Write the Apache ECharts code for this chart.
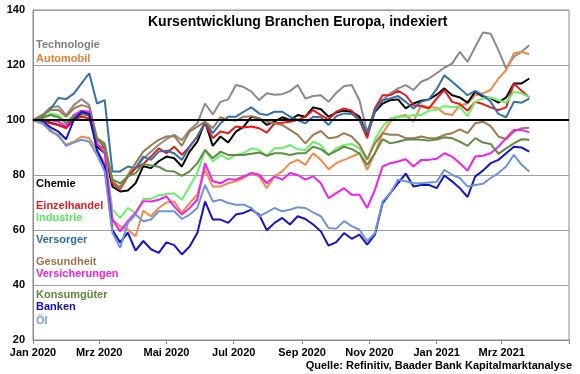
<!DOCTYPE html>
<html><head><meta charset="utf-8">
<script src="https://cdn.jsdelivr.net/npm/echarts@6/dist/echarts.min.js"></script>
<style>html,body{margin:0;padding:0;background:#fff}#c{width:580px;height:374px}</style>
</head><body><div id="c"></div>
<script>
// Weekly observation dates
const dates = ['2020-01-01','2020-01-10','2020-01-17','2020-01-24','2020-01-31','2020-02-07','2020-02-14','2020-02-21','2020-02-28','2020-03-06',
'2020-03-13','2020-03-20','2020-03-27','2020-04-03','2020-04-10','2020-04-17','2020-04-24','2020-05-01','2020-05-08','2020-05-15',
'2020-05-22','2020-05-29','2020-06-05','2020-06-12','2020-06-19','2020-06-26','2020-07-03','2020-07-10','2020-07-17','2020-07-24',
'2020-07-31','2020-08-07','2020-08-14','2020-08-21','2020-08-28','2020-09-04','2020-09-11','2020-09-18','2020-09-25','2020-10-02',
'2020-10-09','2020-10-16','2020-10-23','2020-10-30','2020-11-06','2020-11-13','2020-11-20','2020-11-27','2020-12-04','2020-12-11',
'2020-12-18','2020-12-25','2021-01-01','2021-01-08','2021-01-15','2021-01-22','2021-01-29','2021-02-05','2021-02-12','2021-02-19',
'2021-02-26','2021-03-05','2021-03-12','2021-03-19','2021-03-26'];

const technologie = [100,102,104.6,105,101.8,105.4,107.6,105.4,93.4,91,77,75.8,79.5,82.5,86,88.5,91,93,94.6,92.7,96.4,98.8,106,102,106.6,107.5,112.7,112,110.3,107.2,109.7,109.2,109.4,110.5,112.7,107.8,108.7,109,106.6,109.9,112.3,112.7,107.2,95.5,104.2,107.2,109.7,111.5,112.7,110.9,113.9,115.1,117,119,120.5,124.8,121.1,126.6,131.8,131.4,125.4,118.7,123,124.8,127.2];
const automobil = [100,98.5,96.4,94,91,92.1,94,93.4,89,84.3,63.8,61.4,60.1,57.7,67,65,68,70,70.4,66.2,69.8,72.8,81.9,75.8,75.8,77,77.7,78.9,80.7,79.5,75.2,79.5,81.3,84.3,85.5,83.7,87.9,85.5,82.1,84.3,85.5,86.7,87.9,81.9,87.9,95.2,99.4,101.2,101.8,99.4,105.4,104.6,104.5,102.4,101.8,105.4,106,109,109.7,110.9,115.1,118.1,124.2,124.8,123.9];
const chemie = [100,99.8,99,98.2,97.3,100.6,102.2,101.8,90.3,88,75.8,74,74.4,77,83.2,82.5,85,86.7,86.1,83.1,88.5,92.1,99.4,90.6,94,91.8,95.8,97.6,101.2,100.6,98.2,99.4,101,100,101.8,101.2,104.6,103.9,101.2,102.7,103.4,103,101.2,94.6,103,106,107.2,107.5,104.2,106,107,107.5,109.2,111.5,109,108.2,106.3,110.3,108.5,107.9,106.3,108.2,113.3,113.3,115.1];
const einzelhandel = [100,99.6,98.8,98.2,97,100,101.2,100.6,91,89.7,77,74.8,79.5,82.5,84,86.7,89.7,87.9,90.3,87.3,90.3,94,98.8,93.4,95.8,95.2,97.6,97.3,97.6,97,95.4,98.8,99,99.4,100,101.2,103.6,101.8,100.2,103,104.2,103.4,100,93.4,104.2,109,109,110.6,109,105.4,105.1,104.2,107.8,110.9,106.6,105.8,103.4,106.6,105.8,104.6,103.6,104.6,113.3,110.6,108.2];
const industrie = [100,101,102.4,101.8,99.4,101.8,103,102.2,91.5,88.5,67.4,64.4,68,66.2,71.3,71.3,72.6,73,73.4,71,75.8,80.7,89.1,84.9,87.3,85.7,87.3,87.9,89.7,89.1,87,89.7,89.7,90.9,89.4,89.1,92.1,90.9,87.3,89.7,90.9,91.3,89.7,85.5,92.8,97.6,100.6,101.2,101.2,101.8,101.8,103.4,103.7,105.1,104.6,104.8,101.4,106.6,107.9,108.2,107.2,106.3,110.3,109.7,108.2];
const versorger = [100,101.5,104,108,107.6,109.6,113.3,117,106,107.2,81.3,81.3,83.1,82.5,86.7,85.5,88.5,88.8,87.9,85.5,90.3,94,99.4,95.2,98.8,101.2,101.2,103,104.6,102.4,101.8,103,103,101.2,100,98.8,101.2,101,98.2,101.4,102.4,102.2,100,95.2,103.4,107.2,107.8,108.7,106.6,104.2,106.6,107.5,111.2,116.3,113.9,111.5,109,110.6,109,106.6,102.2,101,106.6,106.3,107.8];
const gesundheit = [100,102,103.6,103.6,101.2,104.2,105.4,104.6,93.4,91.5,77.7,75.2,80,84.3,88.5,90.8,92.8,94,94.2,90.6,95.8,97.6,99.4,97,101,100,99.8,101.2,101.4,100.6,99.4,98.8,98.2,96.4,94.6,91.5,94.6,96,93.4,93.7,95.2,94,91,85.7,91.5,95.2,94.6,94.6,93.4,93.4,94,93.4,93.4,94.6,95.2,96.6,95.2,98.8,99.4,97.8,94,93,95.8,97,97.2];
const versicherungen = [100,100,100,99.4,97.8,101.8,103.4,103,91.5,88,63.8,59.5,63.2,66.2,70.5,70.4,71,72.2,68.6,65.6,68,71,84.3,77.7,77,78.5,78.3,79.5,80.7,80.1,77,79.5,78.3,80.7,80,78.3,79.5,77,71.6,73.4,75.2,72.8,72.8,68,74.6,83.1,84.3,84.9,85.7,83.1,85.5,85.5,85.9,87.9,86.7,84.3,81.6,86.7,87,87.9,90.3,93.4,96.4,96.4,95.5];
const konsumgueter = [100,100.8,101.8,101,98.8,101.2,102.4,101.8,92.8,90.3,78.3,77,79.5,80.7,84,83.5,83,81.5,81.3,79.7,81.3,84.3,89.1,86.1,88.5,87.3,87.3,87.3,87.7,88.2,87,87.9,87.9,87.3,87.9,87.9,90.3,89.4,87.3,88.8,90.3,89.4,87.9,83.7,87.9,93,91.5,92.1,92.8,93,92.8,92.5,92.9,93.7,93.4,92.1,90.6,93.4,91.8,91.3,87.7,89.7,91.5,93,92.8];
const banken = [100,99.4,97.3,95.8,93,100,103,102.2,89,83.1,60,55.5,59,52.5,56,53,51.7,55.5,54.5,51.1,54,58.9,70.4,63.8,63.8,62.6,65.6,66.2,67.4,65.6,59.9,62.6,64.4,62,65,64,62,59.5,54.3,55.6,58.9,56.8,58.3,54.7,58.3,69.8,73.4,77,80.5,75.8,76.4,76.4,75.2,79.8,77.7,75.2,72,79.5,81.6,84.3,85.5,87.9,90.3,90,88.5];
const oel = [100,98.8,95.8,94.6,90.6,91.8,92.8,92.1,87.3,81.3,59,53.5,62.6,65.6,63.2,63.8,66.8,66.8,66.8,64,65.6,68,76.4,70.4,71,69.8,69.2,69.2,68,65,66.4,68,66.8,67.4,68.3,68,66.4,65,60.7,60.5,63.2,61.4,60.1,55.9,58.9,70.4,73.4,78.3,77.7,77,77,77.3,77.5,81.9,80.1,78.9,75.8,76.4,76.8,78.9,80.7,83.1,87.3,83.7,81.3];

const seriesNames = ['Technologie','Automobil','Chemie','Einzelhandel','Industrie','Versorger','Gesundheit','Versicherungen','Konsumgüter','Banken','Öl'];
const seriesValues = [technologie, automobil, chemie, einzelhandel, industrie, versorger, gesundheit, versicherungen, konsumgueter, banken, oel];

// Axis tick labels
const monthNames = ['Jan','Feb','Mrz','Apr','Mai','Jun','Jul','Aug','Sep','Okt','Nov','Dez'];
const xLabelDates = ['2020-01-01','2020-03-01','2020-05-01','2020-07-01','2020-09-01','2020-11-01','2021-01-01','2021-03-01'];
const xTickDates = ['2020-01-01','2020-03-01','2020-05-01','2020-07-01','2020-09-01','2020-11-01','2021-01-01','2021-03-01','2021-05-01'];
const yTicks = [20, 40, 60, 80, 100, 120, 140];
const baseline = 100;

// Styles
const lineColors = ['#8a8a8a','#ee8a4a','#000000','#e81818','#6cf06c','#3570a8','#a07850','#f020f0','#5f8c45','#1414c8','#6f94d4'];
const textColors = ['#808080','#e8803a','#000000','#e02020','#5ce65c','#2e6da8','#a0744a','#f020e0','#5e8c3c','#1010c0','#7a9ad8'];
const labelTops = [39, 53, 178, 200, 212, 234, 256, 268.5, 289, 301.5, 315];

const FONT = '"Liberation Sans", Arial, sans-serif';
function ts(s){ const p = s.split('-').map(Number); return Date.UTC(p[0], p[1]-1, p[2]); }

const chart = echarts.init(document.getElementById('c'), null, {renderer:'canvas'});
const series = seriesNames.map((name, k) => ({
  name: name,
  type: 'line',
  data: dates.map((d, i) => [ts(d), seriesValues[k][i]]),
  showSymbol: false,
  symbol: 'none',
  lineStyle: {width: 2, color: lineColors[k]},
  itemStyle: {color: lineColors[k]},
  animation: false,
  z: 3
}));
series[0].markLine = {
  silent: true, symbol: 'none', animation: false,
  label: {show: false},
  lineStyle: {color: '#000', width: 2, type: 'solid'},
  data: [{yAxis: baseline}]
};

const graphics = seriesNames.map((name, k) => ({
  type: 'text', left: 36, top: labelTops[k], silent: true,
  style: {text: name, fill: textColors[k], font: 'bold 11px ' + FONT}
}));

chart.setOption({
  animation: false,
  title: [
    {text: 'Kursentwicklung Branchen Europa, indexiert', left: 148, top: 15, padding: 0,
     textStyle: {fontFamily: FONT, fontSize: 14, fontWeight: 'bold', color: '#000'}},
    {text: 'Quelle: Refinitiv, Baader Bank Kapitalmarktanalyse', right: 8, top: 360, padding: 0,
     textStyle: {fontFamily: FONT, fontSize: 11, fontWeight: 'bold', color: '#000'}}
  ],
  grid: {left: 33, right: 11, top: 10, bottom: 34, show: true, borderColor: '#8c8c8c', borderWidth: 1, backgroundColor: 'transparent'},
  xAxis: {
    type: 'value',
    min: ts('2020-01-01'), max: ts('2021-05-01'),
    axisLine: {show: true, lineStyle: {color: '#8c8c8c', width: 1}},
    axisTick: {show: true, length: 4, lineStyle: {color: '#8c8c8c'}, customValues: xTickDates.map(ts)},
    axisLabel: {
      customValues: xLabelDates.map(ts),
      margin: 7,
      fontFamily: FONT, fontSize: 11, fontWeight: 'bold', color: '#000',
      formatter: function (v) { const d = new Date(v); return monthNames[d.getUTCMonth()] + ' ' + d.getUTCFullYear(); }
    },
    splitLine: {show: false}
  },
  yAxis: {
    type: 'value', min: yTicks[0], max: yTicks[yTicks.length-1], interval: 20,
    axisLine: {show: true, lineStyle: {color: '#8c8c8c'}},
    axisTick: {show: false},
    axisLabel: {margin: 8, fontFamily: FONT, fontSize: 11, fontWeight: 'bold', color: '#000'},
    splitLine: {show: true, lineStyle: {color: '#a0a0a0', width: 1}}
  },
  graphic: graphics,
  series: series
});
</script></body></html>
